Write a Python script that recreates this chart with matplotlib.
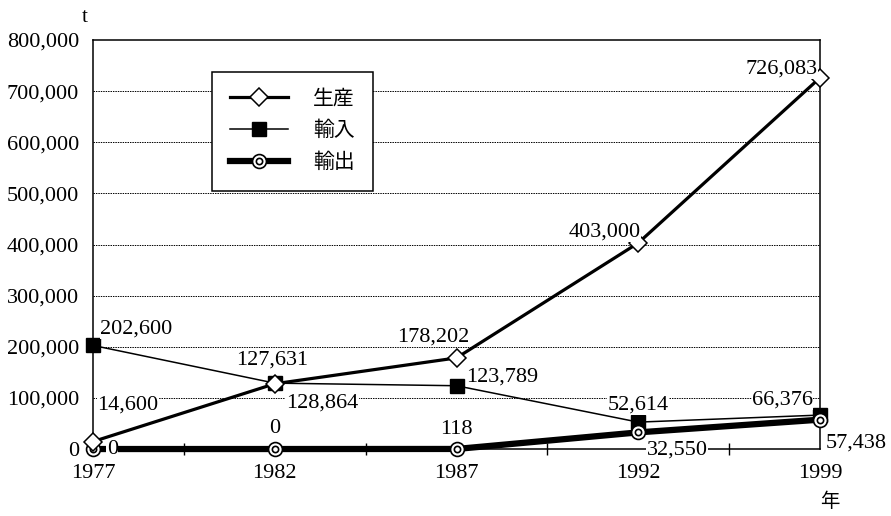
import matplotlib.pyplot as plt
from matplotlib.lines import Line2D

plt.rcParams['font.family'] = ['Liberation Serif', 'Noto Sans CJK JP']

years = ['1977', '1982', '1987', '1992', '1999']
production = [14600, 127631, 178202, 403000, 726083]
imports = [202600, 128864, 123789, 52614, 66376]
exports = [0, 0, 118, 32550, 57438]

yticks = [0, 100000, 200000, 300000, 400000, 500000, 600000, 700000, 800000]

# label offsets (points) and alignment for each value label
prod_off = [(3, 26, 'left'), (-2, 17, 'center'), (-17, 15, 'center'), (2, 8, 'right'), (-2, 6, 'right')]
imp_off = [(5, 12, 'left'), (8, -14, 'left'), (7, 6, 'left'), (0, 12, 'center'), (-5, 11, 'right')]
exp_off = [(14, 0, 'center'), (0, 15, 'center'), (0, 14, 'center'), (6, -13, 'left'), (4, -17, 'left')]

fig = plt.figure(figsize=(8.91, 5.16), dpi=100)
ax = fig.add_axes([0.1044, 0.1298, 0.8159, 0.7927])

x = list(range(len(years)))

ax.plot(x, exports, color='black', lw=4.5, zorder=3, clip_on=False)
ax.plot(x, exports, ls='none', marker='o', ms=10, mfc='white', mec='black', mew=1.2, zorder=4, clip_on=False)
ax.plot(x, exports, ls='none', marker='o', ms=4.5, mfc='white', mec='black', mew=1.2, zorder=4, clip_on=False)

ax.plot(x, imports, color='black', lw=1.1, marker='s', ms=9.5, mfc='black', mec='black', zorder=3, clip_on=False)
ax.plot(x, production, color='black', lw=2.3, marker='D', ms=9, mfc='white', mec='black', mew=1.1,
        zorder=5, clip_on=False)

for series, offs in [(production, prod_off), (imports, imp_off), (exports, exp_off)]:
    for i, v in enumerate(series):
        dx, dy, ha = offs[i]
        ax.annotate(f'{v:,}', (i, v), xytext=(dx, dy), textcoords='offset points',
                    ha=ha, va='center', fontsize=16, zorder=6,
                    bbox=dict(fc='white', ec='none', pad=0.3))

ax.set_xlim(0, 4)
ax.set_ylim(0, 800000)
ax.set_xticks(x)
ax.set_xticklabels(years, fontsize=16)
ax.set_xticks([0.5, 1.5, 2.5, 3.5], minor=True)
ax.tick_params(axis='x', which='major', length=0, pad=11)
ax.tick_params(axis='x', which='minor', length=8, direction='inout', width=1)
ax.set_yticks(yticks)
ax.set_yticklabels([f'{v:,}' for v in yticks], fontsize=16)
ax.tick_params(axis='y', length=0, pad=10)

for yv in yticks[1:-1]:
    ax.axhline(yv, color='black', lw=0.7, ls=(0, (1.5, 1)), zorder=1)

for s in ax.spines.values():
    s.set_linewidth(1.1)

ax.text(-0.011, 1.055, 't', transform=ax.transAxes, fontsize=15, ha='center', va='center')
ax.text(1.013, -0.13, '年', transform=ax.transAxes, fontsize=14, ha='center', va='center')

h1 = Line2D([], [], color='black', lw=2.3, marker='D', ms=9, mfc='white', mec='black', mew=1.1)
h2 = Line2D([], [], color='black', lw=1.1, marker='s', ms=9.5, mfc='black', mec='black')
h3a = Line2D([], [], color='black', lw=4.5, marker='o', ms=10, mfc='white', mec='black', mew=1.2)
h3b = Line2D([], [], ls='none', marker='o', ms=4.5, mfc='white', mec='black', mew=1.2)
leg = ax.legend([h1, h2, (h3a, h3b)], ['生産', '輸入', '輸出'],
                loc='upper left', bbox_to_anchor=(0.164, 0.922), fontsize=15,
                frameon=True, fancybox=False, edgecolor='black', framealpha=1,
                numpoints=1, handlelength=2.8, handletextpad=1.2,
                labelspacing=0.6, borderpad=0.85, borderaxespad=0)
leg.get_frame().set_linewidth(1.1)
leg.set_zorder(7)

plt.savefig('out.png', dpi=100)
